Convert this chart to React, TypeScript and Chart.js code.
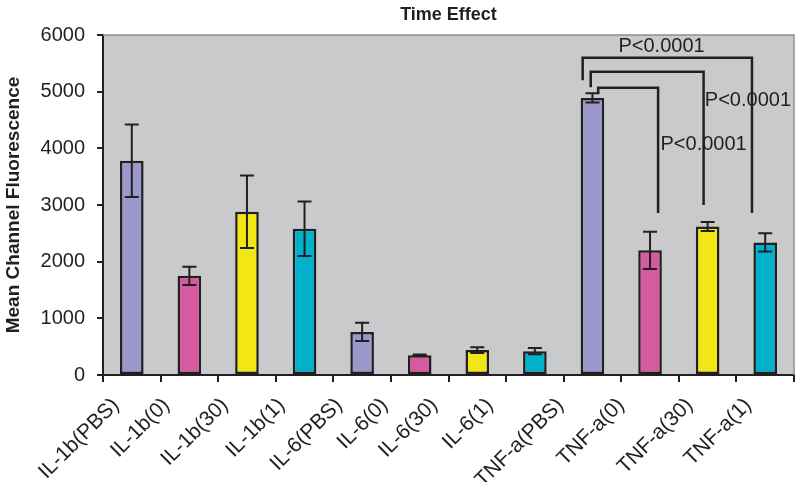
import React, { useEffect, useRef } from 'react';
import { Chart, registerables } from 'chart.js';

Chart.register(...registerables);

const categories = [
  'IL-1b(PBS)', 'IL-1b(0)', 'IL-1b(30)', 'IL-1b(1)',
  'IL-6(PBS)', 'IL-6(0)', 'IL-6(30)', 'IL-6(1)',
  'TNF-a(PBS)', 'TNF-a(0)', 'TNF-a(30)', 'TNF-a(1)',
];
const meanValues = [3780, 1750, 2880, 2580, 760, 350, 440, 420, 4890, 2200, 2620, 2340];
const errorValues = [640, 160, 640, 480, 160, 10, 50, 55, 80, 330, 80, 160];
const chartTitle = 'Time Effect';
const yAxisTitle = 'Mean Channel Fluorescence';
const yMin = 0;
const yMax = 6000;
const yStep = 1000;

// significance brackets (category indices and data values)
const pText = 'P<0.0001';
const bracketFrom = [8, 8, 8];
const bracketTo = [11, 10, 9];
const bracketTop = [5600, 5350, 5070];
const bracketLeftEnd = [5200, 5080, 4975];
const bracketRightEnd = [2860, 3000, 2860];
const pLabelCat = [9.2, 10.7, 9.93];
const pLabelValue = [5790, 4850, 4060];

// styles
const palette = ['#9b99cc', '#d65aa0', '#f2e714', '#00b1cc'];
const bracketLeftShift = [-0.17, -0.03, 0.1];
const bracketRightShift = [-0.23, -0.07, 0.14];
// horizontal shift (px) of each rotated label's end from its category centre
const labelShift = [-16, -23, -22, -23, -23, -35, -43, -45, -32, -29, -18, -17];
const ink = '#231f20';
const plotBg = '#c9cacc';
const fontFamily = '"Liberation Sans", Arial, Helvetica, sans-serif';

const decorPlugin = {
  id: 'decor',
  beforeDraw(chart: any) {
    const { ctx, chartArea } = chart;
    ctx.save();
    ctx.fillStyle = '#ffffff';
    ctx.fillRect(0, 0, chart.width, chart.height);
    ctx.fillStyle = plotBg;
    ctx.fillRect(chartArea.left, chartArea.top, chartArea.right - chartArea.left, chartArea.bottom - chartArea.top);
    ctx.restore();
  },
  afterDatasetsDraw(chart: any) {
    const { ctx, chartArea } = chart;
    const x = chart.scales.x;
    const y = chart.scales.y;
    const step = x.getPixelForValue(1) - x.getPixelForValue(0);
    const xAt = (v: number) => x.getPixelForValue(0) + v * step;

    ctx.save();
    // frame top/right
    ctx.strokeStyle = '#8e8f91';
    ctx.lineWidth = 1.5;
    ctx.beginPath();
    ctx.moveTo(chartArea.left, chartArea.top);
    ctx.lineTo(chartArea.right, chartArea.top);
    ctx.lineTo(chartArea.right, chartArea.bottom);
    ctx.stroke();

    // error bars
    ctx.strokeStyle = ink;
    ctx.lineWidth = 2;
    const cap = 7;
    meanValues.forEach((v, i) => {
      const cx = x.getPixelForValue(i);
      const yh = y.getPixelForValue(v + errorValues[i]);
      const yl = y.getPixelForValue(v - errorValues[i]);
      ctx.beginPath();
      ctx.moveTo(cx, yh);
      ctx.lineTo(cx, yl);
      ctx.moveTo(cx - cap, yh);
      ctx.lineTo(cx + cap, yh);
      ctx.moveTo(cx - cap, yl);
      ctx.lineTo(cx + cap, yl);
      ctx.stroke();
    });

    // brackets
    ctx.lineWidth = 2.5;
    bracketFrom.forEach((f, k) => {
      const x1 = xAt(f + bracketLeftShift[k]);
      const x2 = xAt(bracketTo[k] + bracketRightShift[k]);
      const yt = y.getPixelForValue(bracketTop[k]);
      ctx.beginPath();
      ctx.moveTo(x1, y.getPixelForValue(bracketLeftEnd[k]));
      ctx.lineTo(x1, yt);
      ctx.lineTo(x2, yt);
      ctx.lineTo(x2, y.getPixelForValue(bracketRightEnd[k]));
      ctx.stroke();
    });

    // p labels
    ctx.fillStyle = ink;
    ctx.font = `20px ${fontFamily}`;
    ctx.textAlign = 'center';
    ctx.textBaseline = 'middle';
    pLabelCat.forEach((c, k) => {
      ctx.fillText(pText, xAt(c), y.getPixelForValue(pLabelValue[k]));
    });

    // x category labels, rotated 45 degrees
    ctx.font = `21px ${fontFamily}`;
    ctx.textAlign = 'right';
    ctx.textBaseline = 'middle';
    categories.forEach((lab, i) => {
      const ax = x.getPixelForValue(i) + labelShift[i];
      const ay = chartArea.bottom + 27;
      ctx.save();
      ctx.translate(ax, ay);
      ctx.rotate(-Math.PI / 4);
      ctx.fillText(lab, 0, 0);
      ctx.restore();
    });

    // title
    ctx.font = `bold 18px ${fontFamily}`;
    ctx.textAlign = 'center';
    ctx.fillText(chartTitle, (chartArea.left + chartArea.right) / 2, 15);
    ctx.restore();
  },
};

export default function App() {
  const canvasRef = useRef<HTMLCanvasElement | null>(null);

  useEffect(() => {
    if (!canvasRef.current) return;
    const chart = new Chart(canvasRef.current, {
      type: 'bar',
      data: {
        labels: categories,
        datasets: [
          {
            data: meanValues,
            backgroundColor: meanValues.map((_, i) => palette[i % palette.length]),
            borderColor: ink,
            borderWidth: 2.5,
            borderSkipped: false,
            categoryPercentage: 1,
            barPercentage: 0.41,
          },
        ],
      },
      options: {
        responsive: false,
        animation: false,
        devicePixelRatio: 1,
        layout: { padding: { top: 35, right: 6, left: 0, bottom: 0 } },
        plugins: {
          legend: { display: false },
          title: { display: false },
          tooltip: { enabled: false },
        },
        scales: {
          x: {
            offset: true,
            grid: {
              offset: true,
              drawOnChartArea: false,
              tickLength: 7,
              color: ink,
              lineWidth: 2,
            },
            border: { display: true, color: ink, width: 2 },
            ticks: {
              autoSkip: false,
              maxRotation: 0,
              minRotation: 0,
              color: 'rgba(0,0,0,0)',
              font: { family: fontFamily, size: 2 },
            },
            afterFit: (scale: any) => {
              scale.height = 107;
            },
          },
          y: {
            min: yMin,
            max: yMax,
            grid: {
              drawOnChartArea: false,
              tickLength: 6,
              color: ink,
              lineWidth: 2,
            },
            border: { display: true, color: ink, width: 2 },
            ticks: {
              stepSize: yStep,
              padding: 12,
              color: ink,
              font: { family: fontFamily, size: 20 },
              callback: (v: any) => String(v),
            },
            title: {
              display: true,
              text: yAxisTitle,
              color: ink,
              font: { family: fontFamily, size: 19, weight: 'bold' },
              padding: { top: 2, bottom: 0 },
            },
            afterFit: (scale: any) => {
              scale.width = 103;
            },
          },
        },
      },
      plugins: [decorPlugin],
    });
    return () => chart.destroy();
  }, []);

  return (
    <div style={{ position: 'fixed', left: 0, top: 0, width: 800, height: 482, background: '#fff' }}>
      <canvas ref={canvasRef} width={800} height={482} />
    </div>
  );
}
